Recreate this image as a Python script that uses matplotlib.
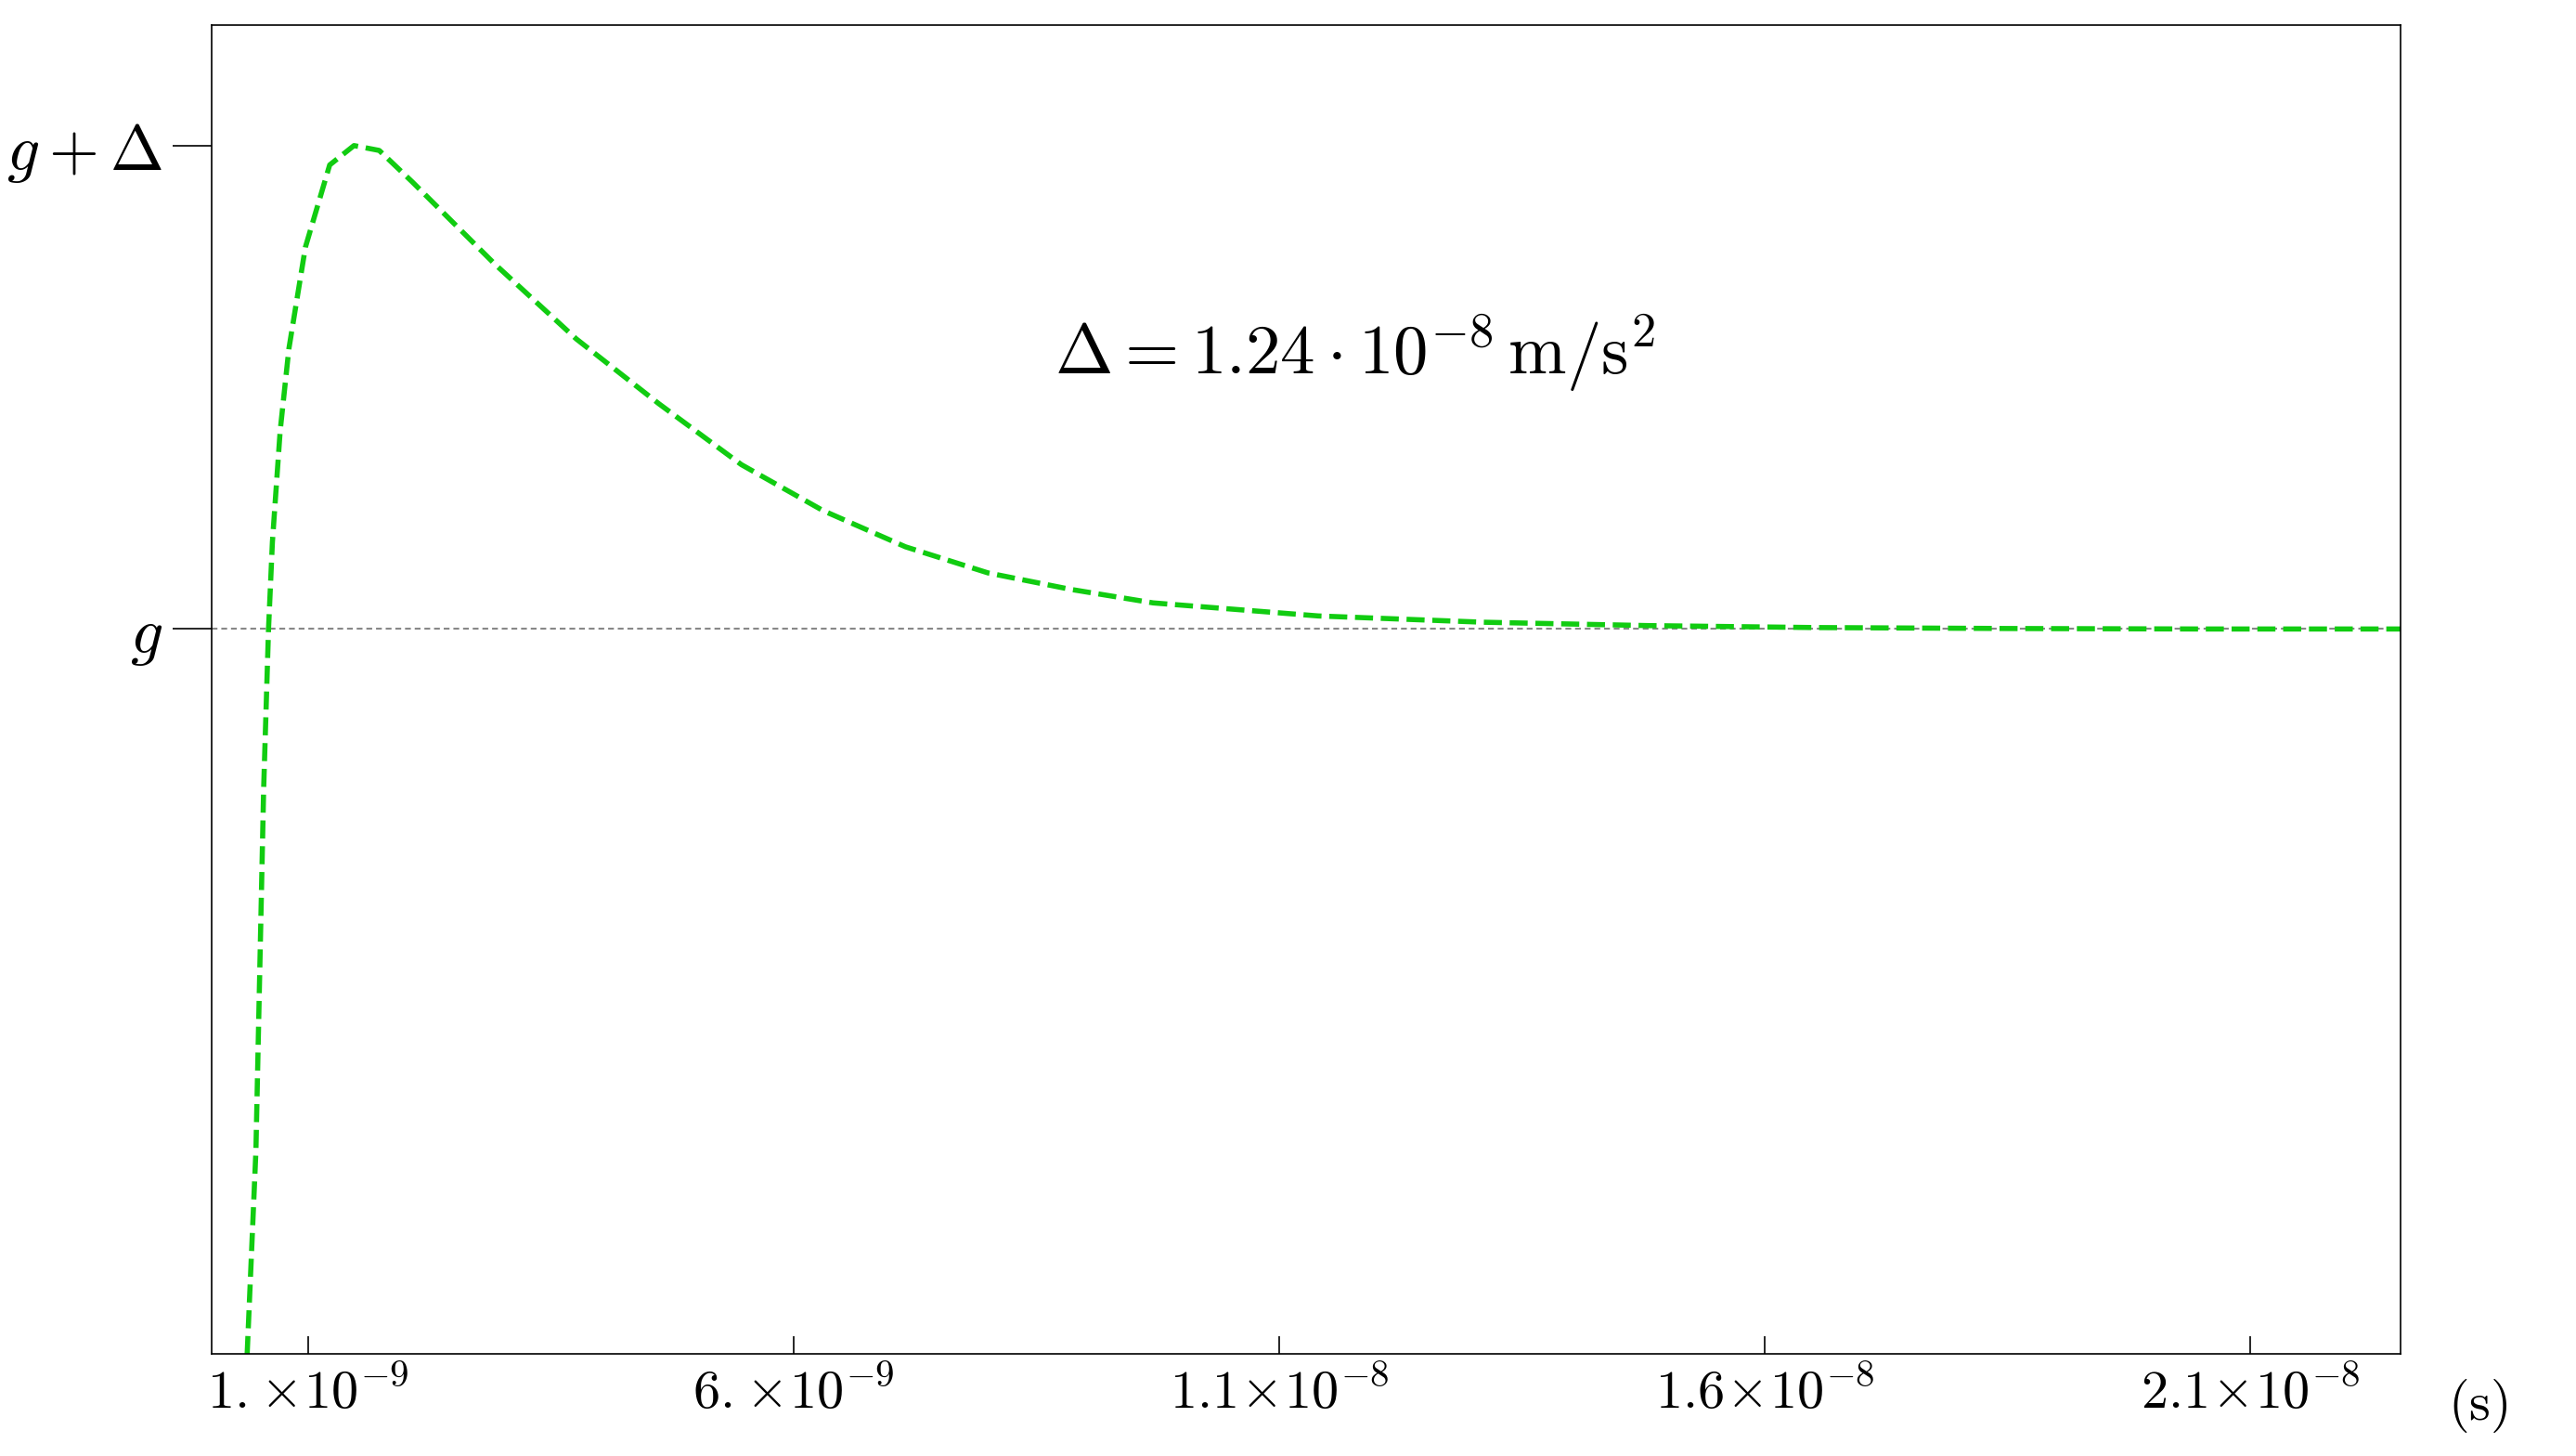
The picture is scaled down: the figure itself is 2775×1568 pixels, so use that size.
import matplotlib
matplotlib.use("Agg")
import matplotlib.pyplot as plt

plt.rcParams['mathtext.fontset'] = 'cm'
plt.rcParams['font.family'] = ['DejaVu Serif']

# time (units of 1e-9 s) and (a - g)/Delta
t_ns = [0.37, 0.46, 0.54, 0.59, 0.63, 0.71, 0.80, 0.97, 1.22, 1.47, 1.73, 2.07, 2.92,
        3.76, 4.61, 5.46, 6.3, 7.15, 8.0, 8.85, 9.7, 11.4, 13.1, 14.8, 16.5, 18.5, 20.5, 22.6]
a_rel = [-1.5, -1.08, -0.33, 0.0, 0.18, 0.41, 0.58, 0.79, 0.96, 1.0, 0.99, 0.925, 0.755,
         0.6, 0.466, 0.34, 0.245, 0.17, 0.116, 0.082, 0.054, 0.027, 0.014, 0.007, 0.003, 0.001, 0.0, 0.0]
xticks = [1e-9, 6e-9, 1.1e-8, 1.6e-8, 2.1e-8]
xticklabels = [r'$1.\!\times\!10^{-9}$', r'$6.\!\times\!10^{-9}$', r'$1.1\!\times\!10^{-8}$',
               r'$1.6\!\times\!10^{-8}$', r'$2.1\!\times\!10^{-8}$']
yticks = [0, 1]
yticklabels = [r'$g$', r'$g+\Delta$']

fig = plt.figure(figsize=(27.75, 15.68), dpi=100)
ax = fig.add_axes([0.082, 0.07, 0.85, 0.913])
t = [v * 1e-9 for v in t_ns]
ax.axhline(0, color='#888888', lw=1.5, ls=(0, (3, 2)))
ax.plot(t, a_rel, color='#11cc11', lw=4, ls=(0, (3.5, 1.5)))
ax.set_xlim(0, 2.255e-8)
ax.set_ylim(-1.5, 1.25)
ax.set_xticks(xticks)
ax.set_xticklabels(xticklabels, fontsize=42)
ax.set_yticks(yticks)
ax.set_yticklabels(yticklabels, fontsize=50)
ax.tick_params(axis='y', length=30, width=1.2, pad=8, direction='out')
ax.tick_params(axis='x', length=14, width=1.2, pad=10, direction='in')
for s in ax.spines.values():
    s.set_linewidth(1.2)
ax.text(1.035, -0.017, r'$(\mathrm{s})$', transform=ax.transAxes, fontsize=42,
        ha='center', va='top')
ax.text(0.385, 0.57, r'$\Delta = 1.24\cdot 10^{-8}\,\mathrm{m/s}^2$', fontsize=54,
        transform=ax.get_yaxis_transform(), ha='left', va='center')
fig.savefig('out.png', dpi=100)
